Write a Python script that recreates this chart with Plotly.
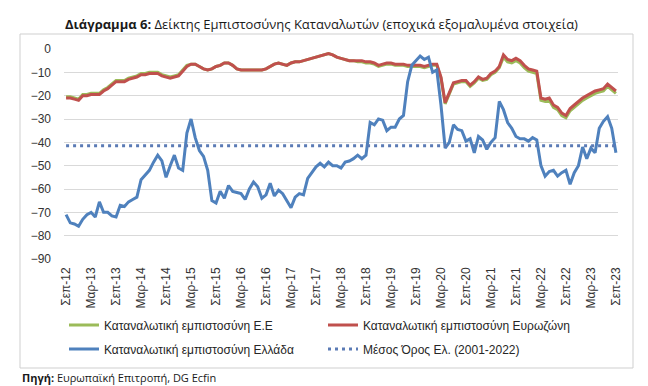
import plotly.graph_objects as go

# ---------------- data ----------------
month_names = ["Ιαν", "Φεβ", "Μαρ", "Απρ", "Μαϊ", "Ιουν", "Ιουλ", "Αυγ", "Σεπ", "Οκτ", "Νοε", "Δεκ"]
categories = []
for yr in range(2012, 2024):
    for mi, mn in enumerate(month_names):
        if (yr == 2012 and mi < 8) or (yr == 2023 and mi > 8):
            continue
        categories.append(f"{mn}-{str(yr)[2:]}")

tick_labels = ["Σεπ-12", "Μαρ-13", "Σεπ-13", "Μαρ-14", "Σεπ-14", "Μαρ-15", "Σεπ-15", "Μαρ-16",
               "Σεπ-16", "Μαρ-17", "Σεπ-17", "Μαρ-18", "Σεπ-18", "Μαρ-19", "Σεπ-19", "Μαρ-20",
               "Σεπ-20", "Μαρ-21", "Σεπ-21", "Μαρ-22", "Σεπ-22", "Μαρ-23", "Σεπ-23"]

eu = [-20.5, -20.5, -21, -21.5, -19.5, -19.5, -19, -19, -19, -17.5,
      -16.5, -15, -13.5, -13.5, -13.5, -12.5, -12, -11.5, -10.5, -10.5,
      -10, -10, -10, -11, -11.5, -12, -11.5, -11, -9, -7,
      -6.5, -6.5, -7.5, -8.5, -9, -8.5, -7.5, -7, -6, -6,
      -7, -8.5, -9, -9, -9, -9, -9, -9, -8.5, -7.5,
      -6.5, -6, -6.5, -7, -6, -5.5, -5.5, -5, -4.5, -4,
      -3.5, -3, -2.5, -2, -2.5, -3.5, -4, -4.5, -5, -5,
      -5.5, -5.5, -6, -6, -6.5, -7.5, -7, -6.5, -6.5, -7,
      -7, -7, -7.5, -7.5, -7.5, -7.5, -8, -7.5, -7, -7,
      -12.5, -23.5, -19.5, -15, -14.5, -14, -14, -16, -14.5, -12.5,
      -13.5, -13, -11, -10, -8, -3.5, -5.5, -6, -5, -6,
      -8, -9.5, -10, -10.5, -22, -22.5, -22, -25, -26, -28.5,
      -29.5, -26.5, -25, -23.5, -22, -21, -20, -19, -18.5, -18,
      -16, -17.5, -19]

eurozone = [-21, -21, -21.5, -22, -20, -20, -19.5, -19.5, -19.5, -18,
            -17, -15.5, -14, -14, -14, -13, -12.5, -12, -11, -11,
            -10.5, -10.5, -10.5, -11.5, -12, -12.5, -12, -11.5, -9.5, -7.5,
            -6.5, -6.5, -7.5, -8.5, -9, -8.5, -7.5, -7, -6, -6,
            -7, -8.5, -9, -9, -9, -9, -9, -9, -8.5, -7.5,
            -6.5, -6, -6.5, -7, -6, -5.5, -5.5, -5, -4.5, -4,
            -3.5, -3, -2.5, -2, -2.5, -3.5, -4, -4.5, -5, -5,
            -5, -5, -5.5, -5.5, -6, -7, -6.5, -6, -6, -6.5,
            -6.5, -6.5, -7, -7, -7, -7, -7.5, -7, -6.5, -6.5,
            -12, -23, -19, -14.5, -14, -13.5, -13.5, -15.5, -14, -12,
            -13, -12.5, -10.5, -9.5, -7.5, -2.5, -4.5, -5, -4, -5,
            -7, -8.5, -9, -9.5, -21, -21.5, -21, -24, -25, -27.5,
            -28.5, -25.5, -24, -22.5, -21, -20, -19, -18, -17.5, -17,
            -15, -16.5, -18]

greece = [-71, -74.5, -75, -76, -73, -71, -70, -72, -65.5, -70,
          -70, -71.5, -72, -67, -67.5, -65.5, -64.5, -63.5, -56, -54,
          -52, -48.5, -45.5, -48, -55, -50, -45.5, -51, -52, -36,
          -30, -38, -43.5, -46, -52, -65, -66, -61, -64, -58.5,
          -61, -61.5, -62, -64.5, -60, -57, -59, -64, -62.5, -57.5,
          -63, -60.5, -62, -65, -68, -63.5, -62, -62.5, -55.5, -53,
          -50.5, -49, -50.5, -48.5, -50, -50, -51, -48.5, -48, -47,
          -45.5, -47, -45.5, -31.5, -32.5, -30, -30.5, -35, -33.5, -33.5,
          -30, -28.5, -14, -7, -5, -3, -4.5, -3.5, -10, -9,
          -24, -42.5, -40, -32.5, -34.5, -35, -39.5, -38.5, -44.5, -37.5,
          -39, -43, -40, -38, -22.5, -26, -31.5, -34, -37.5, -38.5,
          -38.5, -39.5, -38, -39, -50, -54.5, -52.5, -52, -54.5, -53,
          -52, -58, -53, -50, -42, -47, -42.5, -44.5, -34, -31,
          -29, -34, -44.5]

greece_mean_2001_2022 = -41.5
mean_line = [greece_mean_2001_2022] * len(categories)

series_names = ["Καταναλωτική εμπιστοσύνη Ε.Ε", "Καταναλωτική εμπιστοσύνη Ευρωζώνη",
                "Καταναλωτική εμπιστοσύνη Ελλάδα", "Μέσος Όρος Ελ. (2001-2022)"]

# ---------------- figure ----------------
W, H = 648, 386
ML, MR, MT, MB = 56, 38, 41, 135
PW, PH = W - ML - MR, H - MT - MB

def px(x):
    return (x - ML) / PW

def py(y):
    return (H - MB - y) / PH

fig = go.Figure()
fig.add_trace(go.Scatter(x=categories, y=eu, mode="lines", name=series_names[0],
                         line=dict(color="#9BBB59", width=3), legend="legend"))
fig.add_trace(go.Scatter(x=categories, y=eurozone, mode="lines", name=series_names[1],
                         line=dict(color="#C0504D", width=3), legend="legend"))
fig.add_trace(go.Scatter(x=categories, y=greece, mode="lines", name=series_names[2],
                         line=dict(color="#4F81BD", width=3), legend="legend2"))
fig.add_trace(go.Scatter(x=categories, y=mean_line, mode="lines", name=series_names[3],
                         line=dict(color="#5B7BB5", width=3, dash="3px,4px"), legend="legend2"))

tick_font = dict(family="Liberation Sans, Arial, sans-serif", size=12, color="#333333")
legend_common = dict(orientation="h", xref="container", yref="container", xanchor="left",
                     yanchor="middle", entrywidth=214, entrywidthmode="pixels",
                     font=dict(family="Liberation Sans, Arial, sans-serif", size=12, color="#262626"),
                     bgcolor="rgba(0,0,0,0)", itemwidth=30, traceorder="normal")

fig.update_layout(
    width=W, height=H,
    margin=dict(l=ML, r=MR, t=MT, b=MB, autoexpand=False),
    paper_bgcolor="white", plot_bgcolor="white",
    showlegend=True,
    legend=dict(**legend_common, x=56 / W, y=1 - 317 / H),
    legend2=dict(**legend_common, x=56 / W, y=1 - 341 / H),
    xaxis=dict(type="category", categoryorder="array", categoryarray=categories,
               range=[-0.5, len(categories) - 0.5],
               tickmode="array", tickvals=tick_labels, ticktext=tick_labels,
               tickangle=-90, tickfont=tick_font, showgrid=False, zeroline=False,
               showline=False, ticks="", ticklabelstandoff=5),
    yaxis=dict(range=[-90, 0], dtick=10, tick0=0, tickfont=tick_font,
               showgrid=True, gridcolor="#d9d9d9", gridwidth=1, zeroline=False,
               showline=False, ticks="", ticklabelstandoff=12),
    shapes=[dict(type="rect", xref="paper", yref="paper",
                 x0=px(12), x1=px(625), y0=py(360), y1=py(26),
                 line=dict(color="#cfcfcf", width=1), fillcolor="rgba(0,0,0,0)", layer="above")],
    annotations=[
        dict(text="<b>Διάγραμμα 6:</b> Δείκτης Εμπιστοσύνης Καταναλωτών (εποχικά εξομαλυμένα στοιχεία)",
             xref="paper", yref="paper", x=px(55), y=py(16), xanchor="left", yanchor="middle",
             showarrow=False, font=dict(family="Open Sans, sans-serif", size=13, color="#1a1a1a")),
        dict(text="<b>Πηγή:</b> Ευρωπαϊκή Επιτροπή, DG Ecfin",
             xref="paper", yref="paper", x=px(12), y=py(369), xanchor="left", yanchor="middle",
             showarrow=False, font=dict(family="Open Sans, sans-serif", size=11, color="#1a1a1a")),
    ],
)

fig.write_html("out.html")
